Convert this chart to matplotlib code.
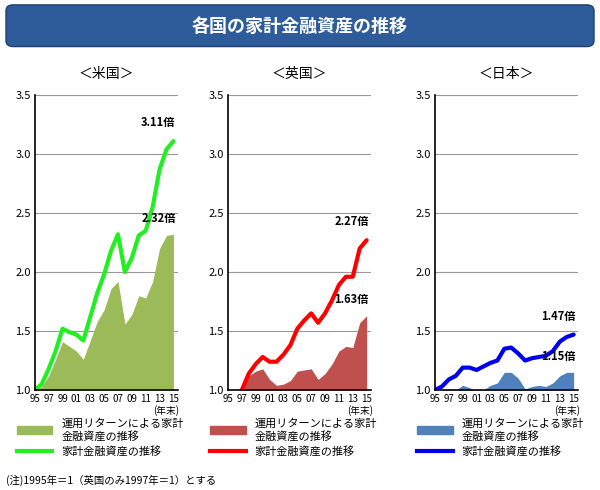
import matplotlib.pyplot as plt
from matplotlib.patches import FancyBboxPatch, Patch
from matplotlib.lines import Line2D
import numpy as np

plt.rcParams['font.family'] = 'Noto Sans CJK JP'

years = np.arange(1995, 2016)
tick_labels = ['95', '97', '99', '01', '03', '05', '07', '09', '11', '13', '15']

us_total = [1.0, 1.05, 1.18, 1.33, 1.52, 1.49, 1.47, 1.42, 1.62, 1.82, 1.98,
            2.18, 2.32, 2.00, 2.12, 2.31, 2.35, 2.55, 2.87, 3.04, 3.11]
us_return = [1.0, 1.03, 1.12, 1.26, 1.41, 1.37, 1.33, 1.26, 1.42, 1.58, 1.68,
             1.86, 1.92, 1.56, 1.64, 1.80, 1.78, 1.92, 2.20, 2.31, 2.32]
uk_years = np.arange(1997, 2016)
uk_total = [1.0, 1.14, 1.22, 1.28, 1.24, 1.24, 1.30, 1.38, 1.52, 1.59, 1.65,
            1.57, 1.65, 1.76, 1.89, 1.96, 1.96, 2.20, 2.27]
uk_return = [1.0, 1.12, 1.16, 1.18, 1.09, 1.04, 1.05, 1.08, 1.16, 1.17, 1.18,
             1.09, 1.14, 1.22, 1.33, 1.37, 1.36, 1.57, 1.63]
jp_total = [1.0, 1.03, 1.09, 1.12, 1.19, 1.19, 1.17, 1.20, 1.23, 1.25, 1.35,
            1.36, 1.31, 1.25, 1.27, 1.28, 1.29, 1.33, 1.41, 1.45, 1.47]
jp_return = [1.0, 1.0, 1.01, 1.0, 1.04, 1.02, 0.99, 1.0, 1.04, 1.06, 1.15,
             1.15, 1.10, 1.01, 1.03, 1.04, 1.03, 1.06, 1.12, 1.15, 1.15]

panels = [
    ('＜米国＞', years, us_total, us_return, '#22ee22', '#9bbb59', '3.11倍', '2.32倍', 0.058),
    ('＜英国＞', uk_years, uk_total, uk_return, '#ff0000', '#c0504d', '2.27倍', '1.63倍', 0.380),
    ('＜日本＞', years, jp_total, jp_return, '#0000ee', '#4f81bd', '1.47倍', '1.15倍', 0.725),
]

fig = plt.figure(figsize=(6, 4.9), dpi=100)

# title banner
ban = FancyBboxPatch((0.01, 0.905), 0.98, 0.085, boxstyle='round,pad=0,rounding_size=0.012',
                     transform=fig.transFigure, facecolor='#2e5c9a', edgecolor='#1f3f70', lw=1)
fig.patches.append(ban)
fig.text(0.5, 0.947, '各国の家計金融資産の推移', color='white', fontsize=13, weight='bold',
         ha='center', va='center')

for title, yrs, tot, ret, lc, fc, lab1, lab2, left in panels:
    ax = fig.add_axes([left, 0.204, 0.238, 0.602])
    ax.fill_between(yrs, 1.0, ret, color=fc, lw=0)
    ax.plot(yrs, tot, color=lc, lw=3, solid_capstyle='round')
    ax.set_xlim(1995, 2015.6)
    ax.set_ylim(1.0, 3.5)
    ax.set_yticks([1.0, 1.5, 2.0, 2.5, 3.0, 3.5])
    ax.set_yticklabels(['1.0', '1.5', '2.0', '2.5', '3.0', '3.5'], fontsize=8)
    ax.set_xticks(np.arange(1995, 2016, 2))
    ax.set_xticklabels(tick_labels, fontsize=7)
    ax.tick_params(length=0, pad=3)
    ax.grid(axis='y', color='#999999', lw=0.8)
    ax.set_axisbelow(True)
    for s in ['top', 'right']:
        ax.spines[s].set_visible(False)
    ax.spines['left'].set_linewidth(1.2)
    ax.spines['bottom'].set_linewidth(1.2)
    ax.set_title(title, fontsize=10, pad=12)
    ax.text(2015.3, tot[-1] + 0.1, lab1, fontsize=8, weight='bold', ha='right', va='bottom')
    ax.text(2015.3, ret[-1] + 0.08, lab2, fontsize=8, weight='bold', ha='right', va='bottom')
    ax.text(2014, 0.87, '(年末)', fontsize=7, ha='center', va='top')
    ax.legend(handles=[Patch(color=fc, label='運用リターンによる家計\n金融資産の推移'),
                       Line2D([], [], color=lc, lw=3, label='家計金融資産の推移')],
              loc='upper left', bbox_to_anchor=(-0.18, -0.07), frameon=False,
              fontsize=8, handlelength=3.2, labelspacing=0.4, borderpad=0.2)

fig.text(0.01, 0.012, '(注)1995年＝1（英国のみ1997年＝1）とする', fontsize=7.5)

fig.savefig('out.png', dpi=100)
